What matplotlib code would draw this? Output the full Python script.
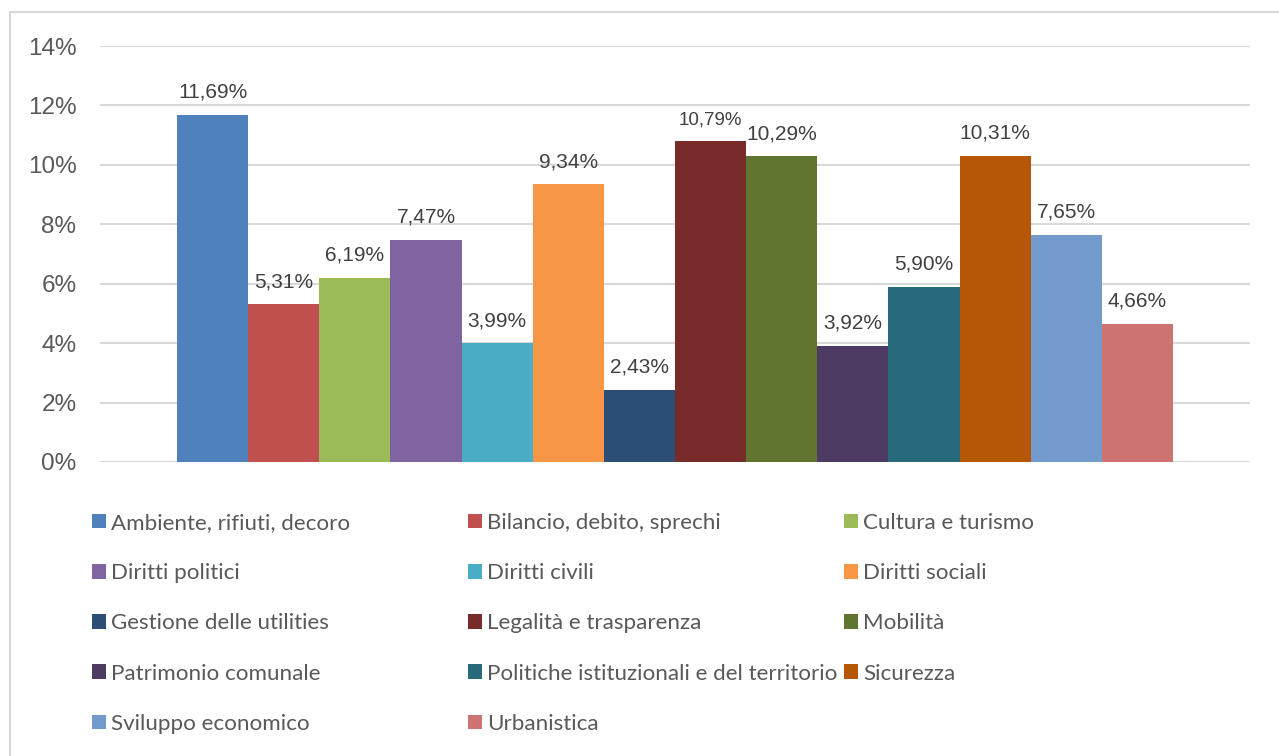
import matplotlib
matplotlib.use("Agg")
import matplotlib.pyplot as plt
from matplotlib.patches import Rectangle, Patch
import numpy as np

categories = [
    "Ambiente, rifiuti, decoro", "Bilancio, debito, sprechi", "Cultura e turismo",
    "Diritti politici", "Diritti civili", "Diritti sociali",
    "Gestione delle utilities", "Legalità e trasparenza", "Mobilità",
    "Patrimonio comunale", "Politiche istituzionali e del territorio", "Sicurezza",
    "Sviluppo economico", "Urbanistica",
]
values = [11.69, 5.31, 6.19, 7.47, 3.99, 9.34, 2.43, 10.79, 10.29, 3.92, 5.90, 10.31, 7.65, 4.66]
colors = [
    "#4F81BD", "#C0504D", "#9BBB59", "#8064A2", "#4BACC6", "#F79646", "#2C4D75",
    "#772C2A", "#5F7530", "#4D3B62", "#276A7C", "#B65708", "#729ACA", "#CD7371",
]
yticks = [0, 2, 4, 6, 8, 10, 12, 14]

W, H = 1279, 756
fig = plt.figure(figsize=(W / 100, H / 100), dpi=100)

# outer chart frame
fig.patches.append(Rectangle((9.5 / W, -0.1), 1.2, 1 - 11.5 / H + 0.1,
                             transform=fig.transFigure, fill=False,
                             edgecolor="#D9D9D9", linewidth=1.5))

ax = fig.add_axes([100 / W, (H - 462) / H, 1150 / W, 416 / H])
x = np.arange(len(values))
bars = ax.bar(x, values, width=1.0, color=colors, linewidth=0, zorder=3)

for i, (xi, v) in enumerate(zip(x, values)):
    # a label that would crowd a slightly lower neighbour's label is set smaller
    crowded = i + 1 < len(values) and 0 < v - values[i + 1] < 1
    ax.annotate(f"{v:.2f}%".replace(".", ","), (xi, v), xytext=(0, 9.5),
                textcoords="offset points", ha="center", va="bottom",
                fontsize=13.5 if crowded else 15, color="#404040",
                family="Liberation Sans")

pad_bars = 77 / 71.1
ax.set_xlim(-0.5 - pad_bars, len(values) - 0.5 + pad_bars)
ax.set_ylim(0, 14)
ax.set_yticks(yticks)
ax.set_yticklabels([f"{t}%" for t in yticks], family="Liberation Sans",
                   fontsize=17.5, color="#595959")
ax.tick_params(axis="y", length=0, pad=17)
ax.set_xticks([])
ax.grid(axis="y", color="#D9D9D9", linewidth=1.5, zorder=0)
ax.set_axisbelow(True)
for s in ax.spines.values():
    s.set_visible(False)

# legend laid out in three columns, filled row by row
col_x = [92, 468, 844]
ncols = 3
for c in range(ncols):
    idx = list(range(c, len(categories), ncols))
    handles = [Patch(facecolor=colors[i], edgecolor="none") for i in idx]
    labels = [categories[i] for i in idx]
    fig.legend(handles, labels, loc="upper left",
               bbox_to_anchor=(col_x[c] / W, 1 - 513 / H),
               frameon=False, ncol=1, prop={"family": "Lato", "size": 16.1},
               labelcolor="#595959", handlelength=0.63, handleheight=0.63,
               handletextpad=0.23, labelspacing=1.35, borderpad=0,
               borderaxespad=0)

fig.savefig("out.png", dpi=100, facecolor="white")
